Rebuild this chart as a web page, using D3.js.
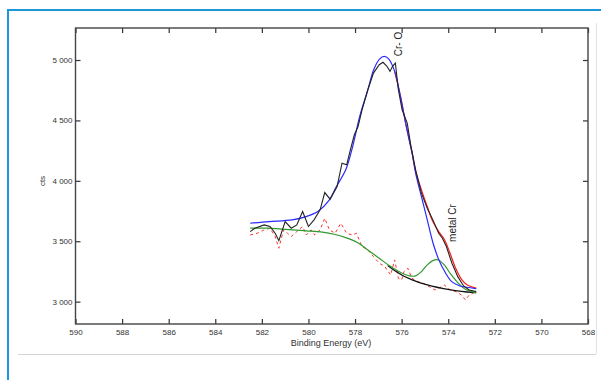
<!DOCTYPE html>
<html>
<head>
<meta charset="utf-8">
<script src="https://cdn.jsdelivr.net/npm/d3@7"></script>
<style>
  body { margin: 0; background: #fff; }
  svg { display: block; font-family: "Liberation Sans", Arial, sans-serif; }
  .axis path { display: none; }
  .axis line { stroke: #333; stroke-width: 1.2; }
  .axis text { fill: #333; font-size: 8px; }
</style>
</head>
<body>
<svg id="chart" width="601" height="380"></svg>
<script>
// binding energy ticks
var xTicks = [590, 588, 586, 584, 582, 580, 578, 576, 574, 572, 570, 568];
var yTicks = [3000, 3500, 4000, 4500, 5000];

// raw spectrum (black, noisy)
var rawBE  = [582.5, 582.3, 581.9, 581.65, 581.43, 581.27, 581.0, 580.74, 580.5, 580.25, 580.0, 579.76, 579.5, 579.3, 579.07, 578.77, 578.56, 578.36, 578.2, 578.03, 577.87, 577.7, 577.45, 577.21, 576.96, 576.8, 576.63, 576.5, 576.39, 576.27, 576.14, 575.98, 575.76, 575.6, 575.4, 575.15, 574.9, 574.66, 574.41, 574.25, 574.08, 573.84, 573.59, 573.34, 573.1, 572.8];
var rawCts = [3580, 3608, 3635, 3622, 3566, 3505, 3663, 3608, 3635, 3746, 3622, 3677, 3760, 3903, 3848, 3953, 4146, 4133, 4257, 4381, 4450, 4588, 4754, 4892, 4961, 4981, 4948, 4906, 4948, 4975, 4754, 4588, 4478, 4285, 4091, 3898, 3773, 3677, 3566, 3525, 3456, 3318, 3207, 3130, 3097, 3083];

// Cr-O component (blue)
var croBE  = [582.5, 581.7, 580.7, 580.1, 579.6, 579.1, 578.8, 578.4, 578.1, 577.8, 577.45, 577.2, 576.95, 576.75, 576.55, 576.3, 576.05, 575.8, 575.55, 575.4, 575.15, 574.9, 574.65, 574.4, 574.15, 573.85, 573.5, 573.2, 572.8];
var croCts = [3649, 3663, 3677, 3704, 3746, 3843, 3953, 4091, 4285, 4533, 4754, 4920, 5008, 5030, 5008, 4906, 4699, 4450, 4229, 4064, 3870, 3677, 3483, 3345, 3249, 3166, 3130, 3119, 3108];

// envelope (red solid)
var envBE  = [576.3, 576.05, 575.8, 575.55, 575.4, 575.15, 574.9, 574.66, 574.41, 574.17, 573.92, 573.68, 573.43, 573.18, 572.8];
var envCts = [4906, 4699, 4450, 4229, 4080, 3925, 3787, 3663, 3580, 3517, 3400, 3276, 3185, 3138, 3112];

// metal Cr component (green)
var metBE  = [582.5, 581.7, 580.7, 580.1, 579.4, 578.9, 578.4, 577.9, 577.45, 576.96, 576.47, 575.98, 575.65, 575.4, 575.15, 574.9, 574.66, 574.41, 574.17, 573.92, 573.59, 573.26, 572.8];
var metCts = [3608, 3608, 3594, 3586, 3575, 3558, 3530, 3489, 3428, 3359, 3290, 3235, 3213, 3213, 3249, 3304, 3340, 3345, 3304, 3235, 3157, 3102, 3072];

// background (black smooth, right part)
var bgBE  = [576.6, 576.2, 575.9, 575.6, 575.2, 574.7, 574.2, 573.7, 573.2, 572.8];
var bgCts = [3300, 3245, 3210, 3185, 3155, 3128, 3108, 3092, 3080, 3075];

// residual (red dashed)
var resBE  = [582.5, 582.2, 581.9, 581.65, 581.43, 581.27, 581.07, 580.9, 580.74, 580.5, 580.25, 580.09, 579.89, 579.73, 579.5, 579.3, 579.1, 578.86, 578.61, 578.36, 578.11, 577.94, 577.7, 577.45, 577.21, 576.96, 576.72, 576.47, 576.3, 576.14, 576.0, 575.9, 575.73, 575.56, 575.31, 575.07, 574.82, 574.57, 574.41, 574.17, 573.92, 573.67, 573.43, 573.26, 573.1, 572.8];
var resCts = [3552, 3566, 3594, 3608, 3539, 3442, 3594, 3566, 3539, 3580, 3622, 3552, 3594, 3552, 3594, 3690, 3594, 3566, 3649, 3566, 3552, 3566, 3456, 3428, 3373, 3318, 3290, 3221, 3345, 3193, 3180, 3249, 3276, 3193, 3166, 3152, 3124, 3097, 3110, 3138, 3097, 3083, 3055, 3014, 3055, 3083];

var svg = d3.select("#chart");

// page frame
svg.append("line").attr("x1", 8).attr("y1", 10).attr("x2", 8).attr("y2", 380)
  .attr("stroke", "#1e96dc").attr("stroke-width", 2);
svg.append("line").attr("x1", 7).attr("y1", 10).attr("x2", 601).attr("y2", 10)
  .attr("stroke", "#1e96dc").attr("stroke-width", 2);
svg.append("line").attr("x1", 18).attr("y1", 354.5).attr("x2", 596).attr("y2", 354.5)
  .attr("stroke", "#d4d4d4").attr("stroke-width", 1);
svg.append("line").attr("x1", 596.5).attr("y1", 23).attr("x2", 596.5).attr("y2", 354)
  .attr("stroke", "#e2e2e2").attr("stroke-width", 1);

var plotL = 75.5, plotR = 588, plotT = 28, plotB = 324;

var x = d3.scaleLinear().domain([590, 568]).range([plotL, plotR]);
var y = d3.scaleLinear().domain([2815, 5265]).range([plotB, plotT]);

var fmt = function (d) { return d3.format(",")(d).replace(",", " "); };

svg.append("g").attr("class", "axis").attr("transform", "translate(0," + plotB + ")")
  .call(d3.axisBottom(x).tickValues(xTicks).tickSize(-5).tickPadding(5));
svg.append("g").attr("class", "axis").attr("transform", "translate(0," + plotT + ")")
  .call(d3.axisTop(x).tickValues(xTicks).tickSize(-5).tickFormat(""));
svg.append("g").attr("class", "axis").attr("transform", "translate(" + plotL + ",0)")
  .call(d3.axisLeft(y).tickValues(yTicks).tickSize(-5).tickPadding(3).tickFormat(fmt));
svg.append("g").attr("class", "axis").attr("transform", "translate(" + plotR + ",0)")
  .call(d3.axisRight(y).tickValues(yTicks).tickSize(-5).tickFormat(""));

svg.append("rect").attr("x", plotL).attr("y", plotT)
  .attr("width", plotR - plotL).attr("height", plotB - plotT)
  .attr("fill", "none").attr("stroke", "#444").attr("stroke-width", 1.4);

function draw(be, cts, color, curve, dash, width) {
  var pts = be.map(function (d, i) { return [d, cts[i]]; });
  var line = d3.line()
    .x(function (d) { return x(d[0]); })
    .y(function (d) { return y(d[1]); })
    .curve(curve);
  svg.append("path").datum(pts)
    .attr("d", line)
    .attr("fill", "none")
    .attr("stroke", color)
    .attr("stroke-width", width || 1.2)
    .attr("stroke-dasharray", dash || null);
}

draw(resBE, resCts, "#ff3030", d3.curveLinear, "3,3", 1);
draw(bgBE, bgCts, "#111", d3.curveCatmullRom, null, 1.3);
draw(metBE, metCts, "#2e9a2e", d3.curveCatmullRom, null, 1.2);
draw(envBE, envCts, "#ff1a1a", d3.curveCatmullRom, null, 1.2);
draw(croBE, croCts, "#2a2aff", d3.curveCatmullRom, null, 1.2);
draw(rawBE, rawCts, "#222", d3.curveLinear, null, 1.1);

// labels
svg.append("text").attr("x", 331).attr("y", 346).attr("text-anchor", "middle")
  .attr("font-size", 9).attr("fill", "#333").text("Binding Energy (eV)");
svg.append("text").attr("transform", "translate(45,181) rotate(-90)")
  .attr("text-anchor", "middle").attr("font-size", 8).attr("fill", "#333").text("cts");

svg.append("text").attr("transform", "translate(402,44) rotate(-90)")
  .attr("text-anchor", "middle").attr("font-size", 10).attr("fill", "#222").text("Cr- O");
svg.append("text").attr("transform", "translate(455.5,223) rotate(-90)")
  .attr("text-anchor", "middle").attr("font-size", 10).attr("fill", "#222").text("metal Cr");
</script>
</body>
</html>
